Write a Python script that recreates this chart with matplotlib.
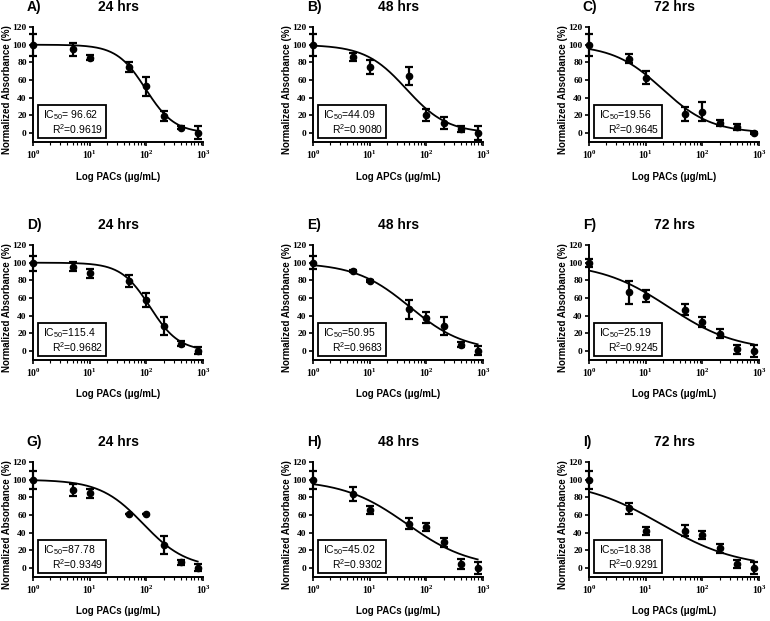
import numpy as np
import matplotlib
matplotlib.use("Agg")
import matplotlib.pyplot as plt
from matplotlib.ticker import FixedLocator, FuncFormatter, LogLocator, NullFormatter
from matplotlib.patches import Rectangle

plt.rcParams['font.family'] = ['Liberation Sans', 'DejaVu Sans']
plt.rcParams['mathtext.fontset'] = 'custom'
plt.rcParams['mathtext.rm'] = 'Liberation Serif:bold'
plt.rcParams['mathtext.bf'] = 'Liberation Serif:bold'
plt.rcParams['mathtext.it'] = 'Liberation Serif:bold:italic'
plt.rcParams['mathtext.sf'] = 'Liberation Sans'

# ---- data ----
doses = [1, 5, 10, 50, 100, 200, 400, 800]

letters = ["A)", "B)", "C)", "D)", "E)", "F)", "G)", "H)", "I)"]
times = ["24 hrs", "48 hrs", "72 hrs", "24 hrs", "48 hrs", "72 hrs", "24 hrs", "48 hrs", "72 hrs"]
xlabels = ["Log PACs (\u03bcg/mL)", "Log APCs (\u03bcg/mL)", "Log PACs (\u03bcg/mL)",
           "Log PACs (\u03bcg/mL)", "Log PACs (\u03bcg/mL)", "Log PACs (\u03bcg/mL)",
           "Log PACs (\u03bcg/mL)", "Log PACs (\u03bcg/mL)", "Log PACs (\u03bcg/mL)"]
ic50_text = ["96.62", "44.09", "19.56", "115.4", "50.95", "25.19", "87.78", "45.02", "18.38"]
ic50_sep = [" ", "", "", "", "", "", "", "", ""]
r2_text = ["0.9619", "0.9080", "0.9645", "0.9682", "0.9683", "0.9245", "0.9349", "0.9302", "0.9291"]

mean_A = [100, 94.7, 85.3, 74.7, 52.8, 19.2, 6.4, 0.5]
err_A = [12.5, 7, 3, 6, 11, 6, 1.5, 7.5]
mean_B = [99.5, 86.4, 74.8, 64.7, 20.6, 11.6, 4.9, 0.5]
err_B = [12.5, 4.7, 7.8, 10, 6.7, 6.5, 3.7, 8]
mean_C = [100, 84, 62.8, 21.7, 24, 11.6, 6.7, 0.3]
err_C = [12.3, 5, 7, 7.7, 10.8, 3, 3.5, 1]
mean_D = [99.5, 95.3, 87.9, 79.6, 58, 28.4, 8.6, 0.3]
err_D = [8.4, 5.2, 4.7, 7, 8, 10.3, 3.2, 4]
mean_E = [100, 90.7, 79.4, 47.4, 38, 28.6, 7.5, 0.3]
err_E = [7.7, 1, 1.5, 10.7, 6, 10, 3, 5]
mean_F = [99.7, 66.7, 62.2, 46.9, 33, 19.9, 2.2, 0.4]
err_F = [4.3, 13, 6.5, 6.2, 5.6, 5.2, 5, 7]
mean_G = [100, 88, 84.4, 61.1, 61.1, 26.2, 6.7, 0.3]
err_G = [10, 6.7, 5.6, 0, 0, 9.7, 2.8, 4]
mean_H = [100, 83.6, 65.6, 49.9, 46.1, 29.2, 4.9, 0.3]
err_H = [10, 8, 4.5, 6.2, 4.7, 5, 5.6, 7]
mean_I = [100, 67.5, 42, 42.4, 37.5, 22.5, 4.9, 0.3]
err_I = [10, 6.6, 4.7, 6.6, 4.3, 5.2, 4.7, 7]

means = [mean_A, mean_B, mean_C, mean_D, mean_E, mean_F, mean_G, mean_H, mean_I]
errs = [err_A, err_B, err_C, err_D, err_E, err_F, err_G, err_H, err_I]

# fitted curve parameters (normalized response, top 100, bottom 0)
fit_ic50 = [96.62, 44.09, 19.56, 115.4, 50.95, 25.19, 87.78, 45.02, 18.38]
fit_hill = [1.7, 1.2, 1.0, 1.7, 0.9, 0.72, 1.14, 0.77, 0.63]
fit_top = 100.0
fit_bottom = 0.0

# ---- figure ----
fig = plt.figure(figsize=(7.7, 6.21), dpi=100)
col_left = [0.0429, 0.4065, 0.765]
row_bottom = [0.7713, 0.4203, 0.0709]
ax_w = 0.221
ax_h = 0.1852

for i in range(9):
    r, c = divmod(i, 3)
    ax = fig.add_axes([col_left[c], row_bottom[r], ax_w, ax_h])
    ax.set_xscale('log')
    ax.set_xlim(1, 1000)
    ax.set_ylim(-10, 120)

    xs = np.logspace(0, np.log10(doses[-1]), 200)
    ys = fit_bottom + (fit_top - fit_bottom) / (1 + (xs / fit_ic50[i]) ** fit_hill[i])
    ax.plot(xs, ys, color='black', lw=1.3, zorder=2, clip_on=False)

    ax.errorbar(doses, means[i], yerr=errs[i], fmt='o', color='black', ms=4.5,
                elinewidth=1.6, capsize=3, capthick=1.6, zorder=3, clip_on=False)

    for s in ['top', 'right']:
        ax.spines[s].set_visible(False)
    for s in ['left', 'bottom']:
        ax.spines[s].set_linewidth(1.4)

    ax.set_yticks([0, 20, 40, 60, 80, 100, 120])
    ax.set_yticklabels(['0', '20', '40', '60', '80', '100', '120'],
                       fontfamily='Liberation Serif', fontweight='bold', fontsize=6.8)
    ax.xaxis.set_major_locator(FixedLocator([1, 10, 100, 1000]))
    ax.xaxis.set_major_formatter(FuncFormatter(lambda v, p: r'$\mathrm{10^{%d}}$' % int(round(np.log10(v)))))
    ax.xaxis.set_minor_locator(LogLocator(base=10, subs=np.arange(2, 10)))
    ax.xaxis.set_minor_formatter(NullFormatter())
    ax.tick_params(axis='both', which='major', direction='out', length=3, width=1.2, pad=1.5)
    ax.tick_params(axis='x', which='major', labelsize=7)
    ax.tick_params(axis='x', which='minor', direction='out', length=2, width=0.8)

    ax.text(-0.037, 1.17, letters[i], transform=ax.transAxes, ha='left', va='center',
            fontsize=10, fontweight='bold')
    ax.text(0.5, 1.17, times[i], transform=ax.transAxes, ha='center', va='center',
            fontsize=10, fontweight='bold')
    ax.text(0.5, -0.30, xlabels[i], transform=ax.transAxes, ha='center', va='center',
            fontsize=7, fontweight='bold')
    ax.text(-0.155, 0.456, 'Normalized Absorbance (%)', transform=ax.transAxes, rotation=90,
            ha='center', va='center', fontsize=7, fontweight='bold')

    ax.add_patch(Rectangle((0.03, 0.037), 0.40, 0.283, transform=ax.transAxes, fill=True,
                           facecolor='white', edgecolor='black', lw=1.3, zorder=4, clip_on=False))
    ax.text(0.06, 0.235, r'IC$_{\mathsf{50}}$=' + ic50_sep[i] + ic50_text[i], transform=ax.transAxes,
            ha='left', va='center', fontsize=7.5, zorder=5)
    ax.text(0.415, 0.11, r'R$^{\mathsf{2}}$=' + r2_text[i], transform=ax.transAxes,
            ha='right', va='center', fontsize=7.5, zorder=5)

fig.savefig('out.png', dpi=100)
